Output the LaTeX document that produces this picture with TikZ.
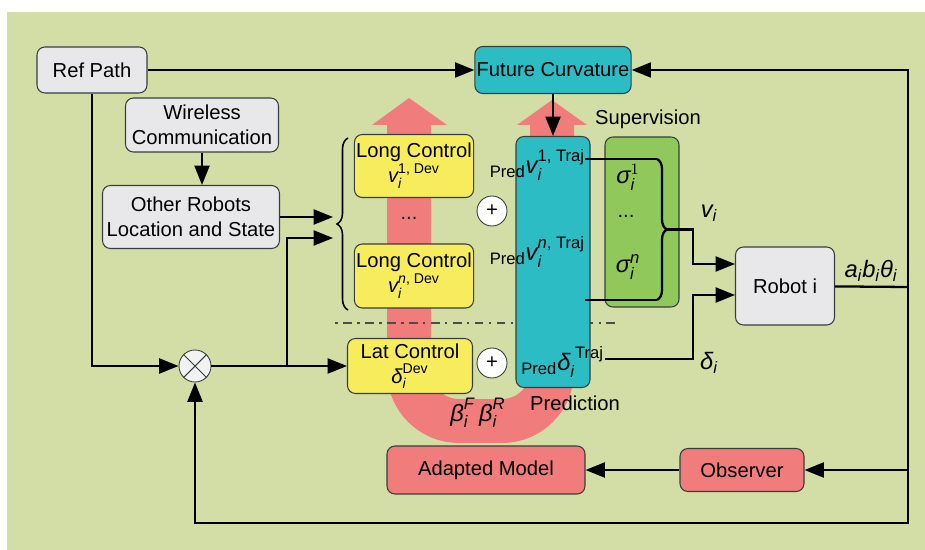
\documentclass[tikz,border=0pt]{standalone}
\usepackage{amsmath}
\usepackage{fontspec}
\setmainfont{Liberation Sans}
\usepackage{tikz}
\usetikzlibrary{arrows.meta}
\tikzset{>={Triangle[length=11pt,width=8.5pt]}}
\usetikzlibrary{positioning,decorations.pathreplacing}
\definecolor{bggreen}{RGB}{211,222,166}
\definecolor{boxgrey}{RGB}{232,232,234}
\definecolor{boxline}{RGB}{55,62,62}
\definecolor{ctrlyellow}{RGB}{246,236,92}
\definecolor{predteal}{RGB}{44,189,196}
\definecolor{supgreen}{RGB}{144,200,92}
\definecolor{salmon}{RGB}{240,124,124}
\newcommand{\sym}[1]{\textit{#1}}

\begin{document}
\begin{tikzpicture}[x=0.02cm,y=-0.02cm,font=\fontsize{11.5}{14}\selectfont,
    block/.style={draw=boxline,line width=0.6pt,rounded corners=4.5pt,inner sep=1pt,align=center},
    grey/.style={block,fill=boxgrey},
    ctrl/.style={block,fill=ctrlyellow,minimum width=2.38cm},
    model/.style={block,fill=salmon},
    sumnode/.style={circle,draw=boxline,line width=0.5pt,fill=white,minimum size=0.6cm,inner sep=0pt},
    mlabel/.style={font=\fontsize{13.5}{15}\selectfont},
    link/.style={line width=1.3pt}]
    \useasboundingbox (0,0) rectangle (925,550);
    \fill[white] (0,0) rectangle (925,550);
    \fill[bggreen] (7,12) rectangle (925,550);
    \draw[salmon,line width=0.88cm,rounded corners=1cm] (409,124) -- (409,421) -- (552,421) -- (552,124);
    \fill[salmon] (372,125) -- (409,98) -- (447,125) -- cycle;
    \fill[salmon] (517,125) -- (552,100) -- (587,125) -- cycle;
    \draw[gray!60!black,line width=1pt,dash pattern=on 1.5pt off 3pt on 5pt off 3pt] (335,323) -- (615,323);

    \node[grey,minimum width=2.2cm,minimum height=0.92cm] at (92,70) (refpath) {Ref Path};
    \node[grey,minimum width=3.06cm,minimum height=1.08cm] at (202,125) (wireless) {Wireless\\Communication};
    \node[grey,minimum width=3.54cm,minimum height=1.26cm] at (191,217) (others) {Other Robots\\Location and State};
    \node[block,fill=predteal,minimum width=3.12cm,minimum height=0.94cm] at (553,70) (future) {Future Curvature};
    \node[block,fill=predteal,minimum width=1.48cm,minimum height=5.02cm] at (553,262) (pred) {};
    \node[block,fill=supgreen,minimum width=1.48cm,minimum height=3.4cm] at (642,222) (superv) {};
    \node[ctrl,minimum height=1.26cm] at (414,166) (long1) {Long Control\\$\sym{v}_{\sym{i}}^{\text{1, Dev}}$};
    \node at (409,218) (ldots) {...};
    \node[ctrl,minimum height=1.28cm] at (414,276) (longn) {Long Control\\$\sym{v}_{\sym{i}}^{\sym{n}\text{, Dev}}$};
    \node[ctrl,minimum width=2.5cm,minimum height=1.1cm] at (410,366) (lat) {Lat Control\\$\sym{δ}_{\sym{i}}^{\text{Dev}}$};
    \node[sumnode] at (492,211) (plus1) {+};
    \node[sumnode] at (492,363) (plus2) {+};
    \node[sumnode,minimum size=0.64cm,fill=white!90!gray] at (195,366) (cross) {};
    \draw[boxline,line width=0.6pt] (cross.north west) -- (cross.south east) (cross.north east) -- (cross.south west);
    \node[grey,minimum width=1.98cm,minimum height=1.56cm] at (785,286) (robot) {Robot i};
    \node[model,minimum width=2.48cm,minimum height=0.86cm] at (742,470) (observer) {Observer};
    \node[model,minimum width=3.96cm,minimum height=0.96cm] at (486,470) (adapted) {Adapted Model};

    \node[mlabel,anchor=east,inner sep=1pt] at (587,165) (pv1) {${}_{\text{Pred}}\sym{v}_{\sym{i}}^{\text{1, Traj}}$};
    \node[mlabel,anchor=east,inner sep=1pt] at (587,252) (pvn) {${}_{\text{Pred}}\sym{v}_{\sym{i}}^{\sym{n}\text{, Traj}}$};
    \node[mlabel,anchor=east,inner sep=1pt] at (606,362) (pdelta) {${}_{\text{Pred}}\sym{δ}_{\sym{i}}^{\text{\ Traj}}$};
    \node[mlabel] at (628,177) (sig1) {$\sym{σ}_{\sym{i}}^{1}$};
    \node at (626,216) (sdots) {...};
    \node[mlabel] at (628,267) (sign) {$\sym{σ}_{\sym{i}}^{\sym{n}}$};
    \node at (648,119) (suplabel) {Supervision};
    \node at (575,403) (predlabel) {Prediction};
    \node[mlabel] at (478,413) (betas) {$\sym{β}_{\sym{i}}^{\sym{F}}\,\sym{β}_{\sym{i}}^{\sym{R}}$};
    \node[mlabel] at (709,213) (vlabel) {$\sym{v}_{\sym{i}}$};
    \node[mlabel] at (709,363) (dlabel) {$\sym{δ}_{\sym{i}}$};
    \node[mlabel] at (871,271) (outlabel) {$\sym{a}_{\sym{i}}\sym{b}_{\sym{i}}\sym{θ}_{\sym{i}}$};

    \coordinate (in1) at (333,217);
    \coordinate (in2) at (333,238);
    \coordinate (split) at (287,366);
    \coordinate (s1) at (585,159);
    \coordinate (bt) at (657,159);
    \coordinate (bb) at (657,300);
    \coordinate (s2) at (585,300);
    \coordinate (vtip) at (667,229.5);
    \coordinate (vbend) at (693,229.5);
    \coordinate (s3) at (605,359);
    \coordinate (dbend) at (693,359);
    \coordinate (rin1) at (735,264);
    \coordinate (rin2) at (735,295);
    \coordinate (out) at (908,287);
    \coordinate (corner) at (908,523);

    \draw[line width=0.9pt,decorate,decoration={brace,amplitude=0.22cm}] (348,310) -- (348,138);
    \draw[link,decorate,decoration={brace,amplitude=0.2cm}] (bt) -- (bb);
    \path[->,link]
    (refpath) edge (future)
    (wireless.south) edge (wireless.south |- others.north)
    (others) edge (in1)
    (cross) edge (lat)
    (future) edge (pred)
    (observer) edge (adapted)
    (out |- observer) edge (observer)
    ;
    \draw[->,link] (refpath.south) |- (cross);
    \draw[->,link] (split) |- (in2);
    \draw[link] (s1) -- (bt) (bb) -- (s2);
    \draw[->,link] (vtip) -- (vbend) |- (rin1);
    \draw[->,link] (s3) -- (dbend) |- (rin2);
    \draw[link] (robot) -- (out);
    \draw[->,link] (out) |- (future);
    \draw[->,link] (out) -- (corner) -| (cross);
\end{tikzpicture}
\end{document}
